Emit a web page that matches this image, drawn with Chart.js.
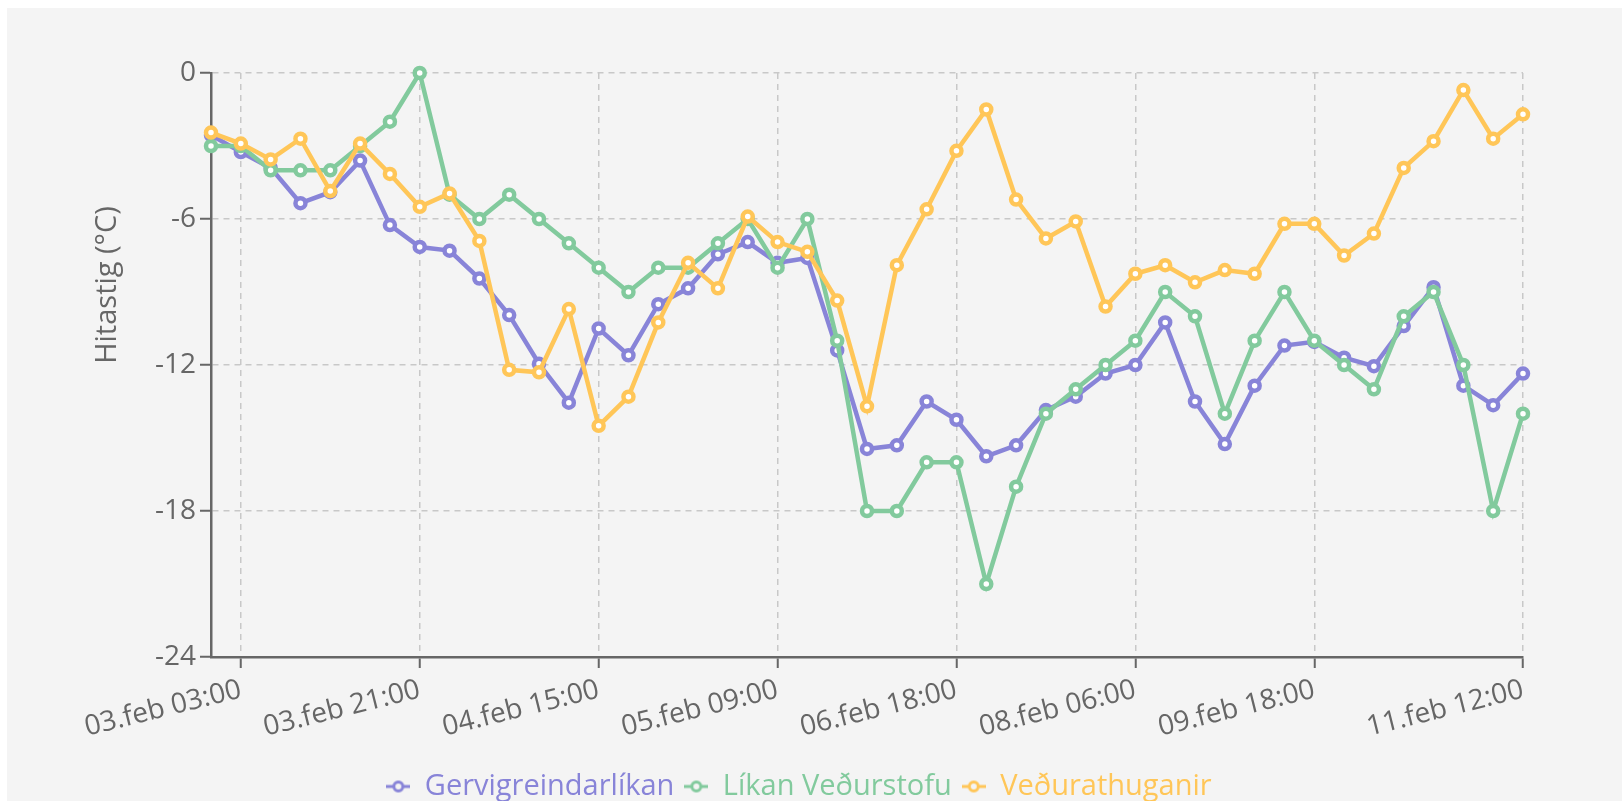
<!DOCTYPE html>
<html>
<head>
<meta charset="utf-8">
<title>Hitastig</title>
<script src="https://cdn.jsdelivr.net/npm/chart.js@4.4.1/dist/chart.umd.min.js"></script>
<style>
    html, body { margin: 0; padding: 0; background: #fff; }
    #wrap { position: absolute; left: 7px; top: 8px; width: 1615px; height: 793px; background: #f4f4f4; }
</style>
</head>
<body>
<div id="wrap"><canvas id="graph"></canvas></div>
<script>
// time stamps of each forecast point
const labels = [
    '03.feb 00:00', '03.feb 03:00', '03.feb 06:00', '03.feb 09:00', '03.feb 12:00', '03.feb 15:00',
    '03.feb 18:00', '03.feb 21:00', '04.feb 00:00', '04.feb 03:00', '04.feb 06:00', '04.feb 09:00',
    '04.feb 12:00', '04.feb 15:00', '04.feb 18:00', '04.feb 21:00', '05.feb 00:00', '05.feb 03:00',
    '05.feb 06:00', '05.feb 09:00', '05.feb 12:00', '05.feb 18:00', '06.feb 00:00', '06.feb 06:00',
    '06.feb 12:00', '06.feb 18:00', '07.feb 00:00', '07.feb 06:00', '07.feb 12:00', '07.feb 18:00',
    '08.feb 00:00', '08.feb 06:00', '08.feb 12:00', '08.feb 18:00', '09.feb 00:00', '09.feb 06:00',
    '09.feb 12:00', '09.feb 18:00', '10.feb 00:00', '10.feb 06:00', '10.feb 12:00', '10.feb 18:00',
    '11.feb 00:00', '11.feb 06:00', '11.feb 12:00'
];

// only these labels are written under the axis
const shownTicks = ['03.feb 03:00', '03.feb 21:00', '04.feb 15:00', '05.feb 09:00',
    '06.feb 18:00', '08.feb 06:00', '09.feb 18:00', '11.feb 12:00'];

const gervigreind = [
    -2.55, -3.25, -3.9, -5.35, -4.9, -3.6, -6.25, -7.15, -7.3, -8.45,
    -9.95, -11.95, -13.55, -10.5, -11.6, -9.5, -8.85, -7.45, -6.95, -7.8,
    -7.6, -11.4, -15.45, -15.3, -13.5, -14.25, -15.75, -15.3, -13.85, -13.3,
    -12.35, -12.0, -10.25, -13.5, -15.25, -12.85, -11.2, -11.05, -11.7, -12.05,
    -10.4, -8.8, -12.85, -13.65, -12.35
];
const vedurstofa = [
    -3, -3, -4, -4, -4, -3, -2, 0, -5, -6,
    -5, -6, -7, -8, -9, -8, -8, -7, -6, -8,
    -6, -11, -18, -18, -16, -16, -21, -17, -14, -13,
    -12, -11, -9, -10, -14, -11, -9, -11, -12, -13,
    -10, -9, -12, -18, -14
];
const athuganir = [
    -2.45, -2.9, -3.55, -2.7, -4.85, -2.9, -4.15, -5.5, -4.95, -6.9,
    -12.2, -12.3, -9.7, -14.5, -13.3, -10.25, -7.8, -8.85, -5.9, -6.95,
    -7.35, -9.35, -13.7, -7.9, -5.6, -3.2, -1.5, -5.2, -6.8, -6.1,
    -9.6, -8.25, -7.9, -8.6, -8.1, -8.25, -6.2, -6.2, -7.5, -6.6,
    -3.9, -2.8, -0.7, -2.7, -1.7
];

const yTicks = [0, -6, -12, -18, -24];
const yTitle = 'Hitastig (°C)';

const colors = ['#8884d8', '#82ca9d', '#ffc658'];
const font = "'Open Sans', sans-serif";

// little line-with-dot icon for the legend
function legendIcon(color) {
    let c = document.createElement('canvas');
    c.width = 24;
    c.height = 14;
    let g = c.getContext('2d');
    g.strokeStyle = color;
    g.lineWidth = 3;
    g.beginPath();
    g.moveTo(0, 7);
    g.lineTo(24, 7);
    g.stroke();
    g.beginPath();
    g.arc(12, 7, 4.5, 0, Math.PI * 2);
    g.fillStyle = '#f4f4f4';
    g.fill();
    g.stroke();
    return c;
}
const icons = colors.map(legendIcon);

function series(label, data, i) {
    return {
        label: label,
        data: data,
        borderColor: colors[i],
        backgroundColor: '#f4f4f4',
        borderWidth: 4.5,
        pointRadius: 5,
        pointBorderWidth: 4.5,
        pointBackgroundColor: '#ffffff',
        pointBorderColor: colors[i],
        pointHoverRadius: 5,
        tension: 0,
        clip: false,
        order: 3 - i
    };
}

// y title sits above the middle of the axis, as in the original
const yTitlePlugin = {
    id: 'yTitle',
    afterDraw(chart) {
        let area = chart.chartArea;
        let ctx = chart.ctx;
        ctx.save();
        ctx.translate(101, area.top + (area.bottom - area.top) * 0.363);
        ctx.rotate(-Math.PI / 2);
        ctx.font = '29px ' + font;
        ctx.fillStyle = '#666';
        ctx.textAlign = 'center';
        ctx.textBaseline = 'middle';
        ctx.fillText(yTitle, 0, 0);
        ctx.restore();
    }
};

let canvas = document.getElementById('graph').getContext('2d');

let chart = new Chart(canvas, {
    type: 'line',
    data: {
        labels: labels,
        datasets: [
            series('Gervigreindarlíkan', gervigreind, 0),
            series('Líkan Veðurstofu', vedurstofa, 1),
            series('Veðurathuganir', athuganir, 2)
        ]
    },
    options: {
        responsive: true,
        maintainAspectRatio: false,
        animation: false,
        events: [],
        layout: {
            padding: { top: 65, right: 99, left: 68, bottom: -10 }
        },
        scales: {
            x: {
                grid: {
                    color: '#c8c8c8',
                    lineWidth: 1.5,
                    tickLength: 11,
                    tickColor: '#666',
                    tickWidth: 2
                },
                border: { color: '#666', width: 2.5, dash: [6, 5] },
                ticks: {
                    autoSkip: false,
                    minRotation: 14,
                    maxRotation: 14,
                    padding: 5,
                    color: '#666',
                    font: { family: font, size: 28 },
                    callback: function(value) {
                        let label = this.getLabelForValue(value);
                        // hide the rest, grid line included
                        return shownTicks.includes(label) ? label : null;
                    }
                },
                afterFit: function(scale) {
                    scale.height = 105;
                }
            },
            y: {
                min: -24,
                max: 0,
                grid: {
                    color: '#c8c8c8',
                    lineWidth: 1.5,
                    tickLength: 11,
                    tickColor: '#666',
                    tickWidth: 2
                },
                border: { color: '#666', width: 2.5, dash: [6, 5] },
                ticks: {
                    stepSize: 6,
                    padding: 4,
                    color: '#666',
                    font: { family: font, size: 28 },
                    callback: function(value) {
                        return yTicks.includes(value) ? value : null;
                    }
                },
                afterFit: function(scale) {
                    scale.width = 136;
                }
            }
        },
        plugins: {
            tooltip: { enabled: false },
            legend: {
                position: 'bottom',
                labels: {
                    usePointStyle: true,
                    pointStyleWidth: 24,
                    padding: 10,
                    font: { family: font, size: 29 },
                    generateLabels: function(chart) {
                        return chart.data.datasets.map((ds, i) => ({
                            text: ds.label,
                            fontColor: ds.borderColor,
                            pointStyle: icons[i],
                            fillStyle: ds.borderColor,
                            strokeStyle: ds.borderColor,
                            lineWidth: 0,
                            hidden: false,
                            datasetIndex: i
                        }));
                    }
                }
            }
        }
    },
    plugins: [yTitlePlugin]
});
</script>
</body>
</html>
